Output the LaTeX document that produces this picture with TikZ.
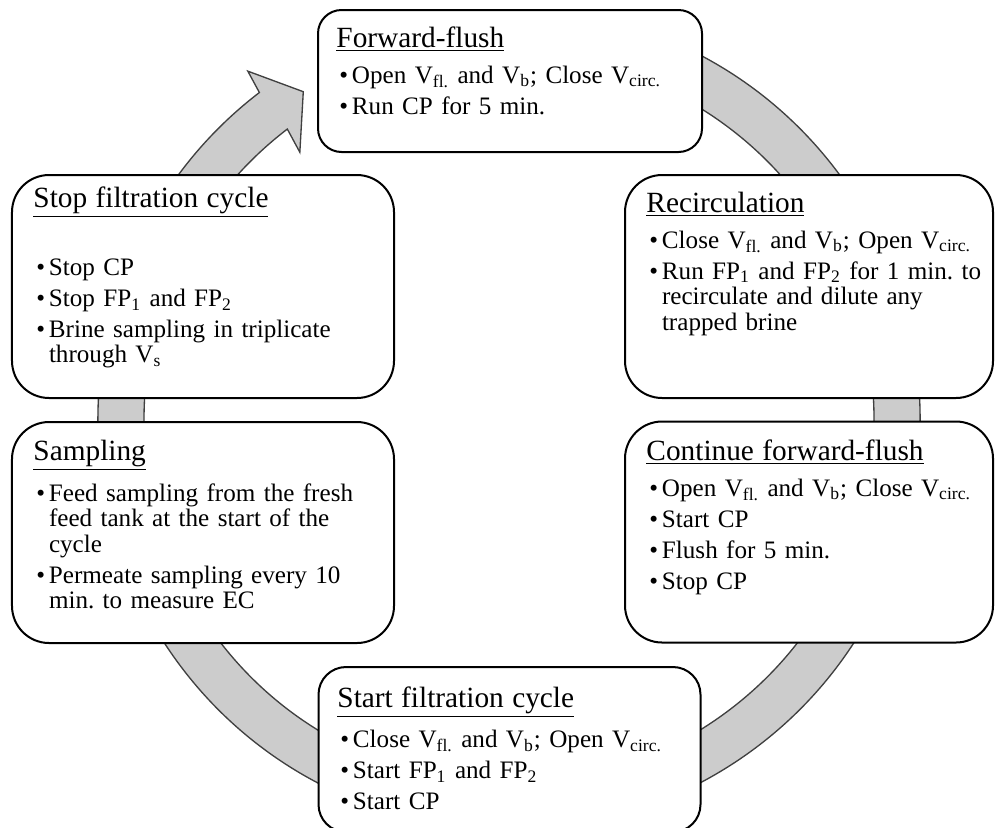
\documentclass[tikz,border=0pt]{standalone}
\usepackage{fontspec}
\setmainfont{Liberation Serif}
\usepackage{tikz}
\pgfdeclarelayer{bg}
\pgfsetlayers{bg,main}
\definecolor{ringfill}{HTML}{CCCCCC}
\definecolor{ringline}{HTML}{404040}
\tikzset{stagebox/.style={draw=black, line width=0.9pt, fill=white, rounded corners=#1, inner sep=0pt}}
\tikzset{stagetext/.style={anchor=base west, inner sep=0pt, text width=190pt, align=left,
    font=\fontsize{11.3}{11.5}\selectfont,
    execute at begin node={\frenchspacing\setlength{\parskip}{2.45pt}}}}
\tikzset{ring/.style={fill=ringfill, draw=ringline, line width=0.6pt, line join=miter}}
\newcommand{\stagetitle}[2][2.25pt]{{\fontsize{13.2}{14}\selectfont\underline{#2}}\par\vspace{#1}}
\newcommand{\bul}[1]{\par\noindent\hangindent=7pt\hangafter=1\makebox[7pt][l]{\hspace{1.35pt}\textbullet}#1\par}

\begin{document}
\begin{tikzpicture}[x=0.45pt, y=-0.45pt]
    \useasboundingbox (0,0) rectangle (996,827);
    \coordinate (hub) at (509,419);

    \begin{pgfonlayer}{bg}
        \begin{scope}[shift={(hub)}]
            \filldraw[ring] (285:411) arc[start angle=285, end angle=592.6, radius=411]
                -- (593.1:435) -- (597.85:386.6) -- (591.9:339) -- (592.6:365)
                arc[start angle=592.6, end angle=285, radius=365] -- cycle;
        \end{scope}
    \end{pgfonlayer}

    \node (ff) at (510,81) [stagebox=10.6pt, minimum width=172.8pt, minimum height=63.9pt] {};
    \node (rc) at (809,286.5) [stagebox=16.7pt, minimum width=165.6pt, minimum height=100.35pt] {};
    \node (cf) at (809,532) [stagebox=16.7pt, minimum width=165.6pt, minimum height=99.45pt] {};
    \node (sf) at (509.5,749.5) [stagebox=12.4pt, minimum width=171.9pt, minimum height=74.25pt] {};
    \node (sa) at (203,532.5) [stagebox=16.7pt, minimum width=171.9pt, minimum height=99.45pt] {};
    \node (st) at (203,286.5) [stagebox=16.7pt, minimum width=171.9pt, minimum height=100.35pt] {};

    \node (ff-txt) at (336,47) [stagetext] {\stagetitle{Forward-flush}
        \bul{Open V\textsubscript{fl.} and V\textsubscript{b}; Close V\textsubscript{circ.}}
        \bul{Run CP for 5 min.}};
    \node (rc-txt) at (646,212) [stagetext] {\stagetitle{Recirculation}
        \bul{Close V\textsubscript{fl.} and V\textsubscript{b}; Open V\textsubscript{circ.}}
        \bul{Run FP\textsubscript{1} and FP\textsubscript{2} for 1 min. to\newline recirculate and dilute any\newline trapped brine}};
    \node (cf-txt) at (646,460) [stagetext] {\stagetitle{Continue forward-flush}
        \bul{Open V\textsubscript{fl.} and V\textsubscript{b}; Close V\textsubscript{circ.}}
        \bul{Start CP}
        \bul{Flush for 5 min.}
        \bul{Stop CP}};
    \node (sf-txt) at (337,707) [stagetext] {\stagetitle{Start filtration cycle}
        \bul{Close V\textsubscript{fl.} and V\textsubscript{b}; Open V\textsubscript{circ.}}
        \bul{Start FP\textsubscript{1} and FP\textsubscript{2}}
        \bul{Start CP}};
    \node (sa-txt) at (33,460) [stagetext] {\stagetitle{Sampling}
        \bul{Feed sampling from the fresh\newline feed tank at the start of the\newline cycle}
        \bul{Permeate sampling every 10\newline min. to measure EC}};
    \node (st-txt) at (33,207) [stagetext] {\stagetitle[15pt]{Stop filtration cycle}
        \bul{Stop CP}
        \bul{Stop FP\textsubscript{1} and FP\textsubscript{2}}
        \bul{Brine sampling in triplicate\newline through V\textsubscript{s}}};
\end{tikzpicture}
\end{document}
